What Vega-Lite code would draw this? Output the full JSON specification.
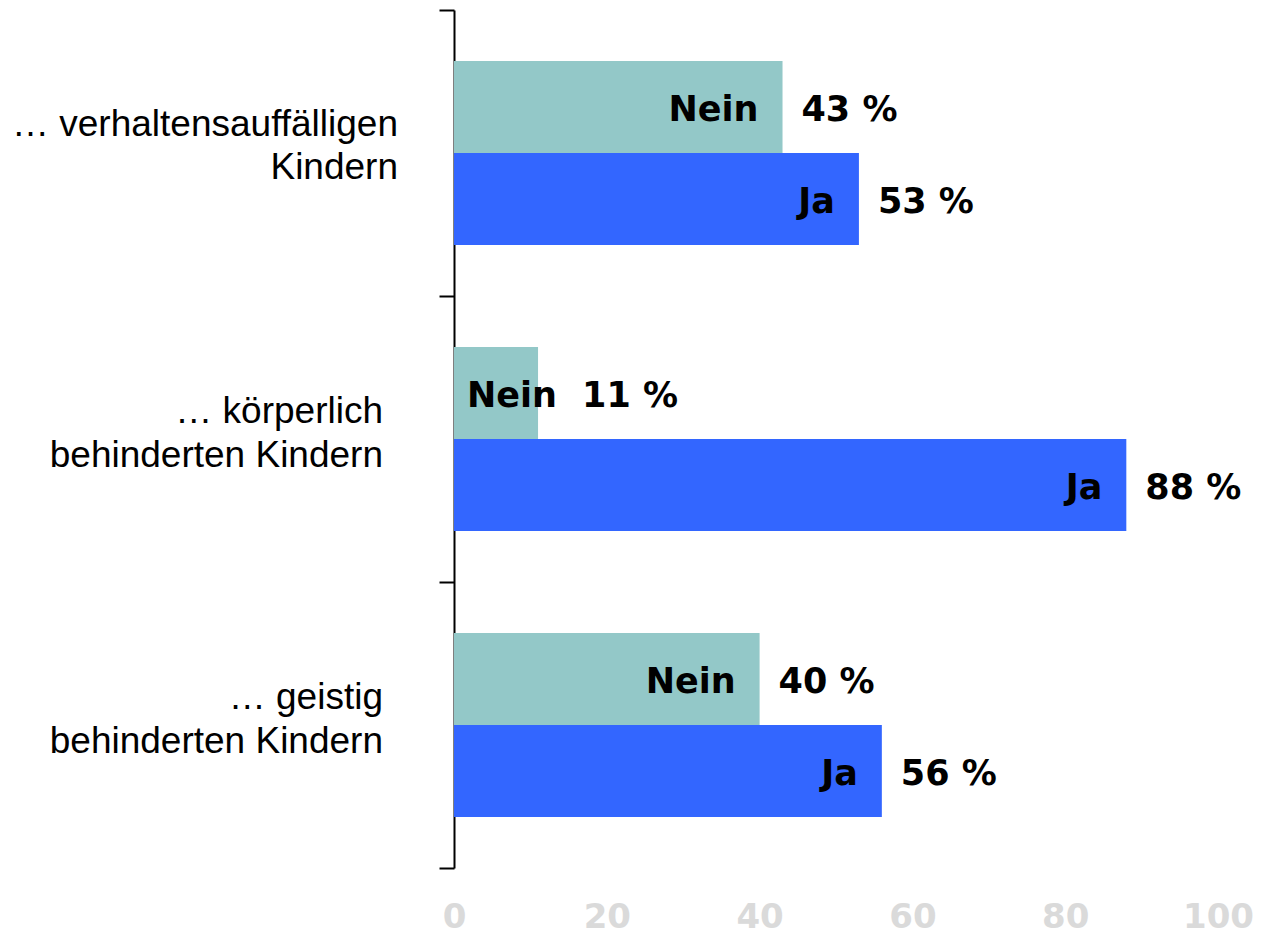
{
  "$schema": "https://vega.github.io/schema/vega-lite/v6.json",
  "width": 764,
  "height": 858,
  "autosize": {"type": "none"},
  "padding": {"left": 454, "top": 10, "right": 45, "bottom": 67},
  "background": "white",
  "config": {"view": {"stroke": null}},
  "data": {
    "values": [
      {"cat": "… verhaltensauffälligen|Kindern", "answer": "Nein", "value": 43, "label": "43 %"},
      {"cat": "… verhaltensauffälligen|Kindern", "answer": "Ja", "value": 53, "label": "53 %"},
      {"cat": "… körperlich\u00a0\u00a0|behinderten Kindern", "answer": "Nein", "value": 11, "label": "11 %"},
      {"cat": "… körperlich\u00a0\u00a0|behinderten Kindern", "answer": "Ja", "value": 88, "label": "88 %"},
      {"cat": "… geistig|behinderten Kindern", "answer": "Nein", "value": 40, "label": "40 %"},
      {"cat": "… geistig|behinderten Kindern", "answer": "Ja", "value": 56, "label": "56 %"}
    ]
  },
  "encoding": {
    "y": {
      "field": "cat",
      "type": "nominal",
      "sort": null,
      "scale": {"paddingInner": 0, "paddingOuter": 0},
      "axis": {
        "title": null,
        "tickBand": "extent",
        "domainColor": "black",
        "domainWidth": 2,
        "tickColor": "black",
        "tickWidth": 2,
        "tickSize": 15,
        "labels": false
      }
    }
  },
  "layer": [
    {
      "mark": {"type": "bar"},
      "encoding": {
        "yOffset": {"field": "answer", "type": "nominal", "sort": ["Nein", "Ja"], "scale": {"paddingInner": 0, "paddingOuter": 0.554}},
        "x": {
          "field": "value",
          "type": "quantitative",
          "scale": {"domain": [0, 100], "nice": false},
          "axis": {
            "title": null,
            "values": [0, 20, 40, 60, 80, 100],
            "domain": false,
            "ticks": false,
            "tickSize": 0,
            "grid": false,
            "labelFont": "DejaVu Sans",
            "labelFontWeight": "bold",
            "labelFontSize": 34,
            "labelColor": "#dadada",
            "labelPadding": 32,
            "labelFlush": false
          }
        },
        "color": {
          "field": "answer",
          "type": "nominal",
          "scale": {"domain": ["Nein", "Ja"], "range": ["#93c8c8", "#3366ff"]},
          "legend": null
        }
      }
    },
    {
      "transform": [{"filter": "datum.answer == 'Nein' && indexof(datum.cat, 'verhaltens') >= 0"}],
      "mark": {"type": "text", "align": "right", "baseline": "middle", "lineBreak": "|", "lineHeight": 43, "dx": -56, "dy": -28, "font": "Liberation Sans", "fontSize": 37, "color": "black"},
      "encoding": {
        "x": {"datum": 0, "type": "quantitative"},
        "text": {"field": "cat"}
      }
    },
    {
      "transform": [{"filter": "datum.answer == 'Nein' && indexof(datum.cat, 'verhaltens') < 0"}],
      "mark": {"type": "text", "align": "right", "baseline": "middle", "lineBreak": "|", "lineHeight": 44, "dx": -71, "dy": -27, "font": "Liberation Sans", "fontSize": 37, "color": "black"},
      "encoding": {
        "x": {"datum": 0, "type": "quantitative"},
        "text": {"field": "cat"}
      }
    },
    {
      "transform": [{"filter": "datum.value >= 20"}],
      "mark": {"type": "text", "align": "right", "baseline": "middle", "dx": -24, "dy": 3, "font": "DejaVu Sans", "fontWeight": "bold", "fontSize": 35, "color": "black"},
      "encoding": {
        "yOffset": {"field": "answer", "type": "nominal", "sort": ["Nein", "Ja"]},
        "x": {"field": "value", "type": "quantitative"},
        "text": {"field": "answer"}
      }
    },
    {
      "transform": [{"filter": "datum.value < 20"}],
      "mark": {"type": "text", "align": "left", "baseline": "middle", "dx": 13, "dy": 3, "font": "DejaVu Sans", "fontWeight": "bold", "fontSize": 35, "color": "black"},
      "encoding": {
        "yOffset": {"field": "answer", "type": "nominal", "sort": ["Nein", "Ja"]},
        "x": {"datum": 0, "type": "quantitative"},
        "text": {"field": "answer"}
      }
    },
    {
      "transform": [{"filter": "datum.value >= 20"}],
      "mark": {"type": "text", "align": "left", "baseline": "middle", "dx": 19, "dy": 3, "font": "DejaVu Sans", "fontWeight": "bold", "fontSize": 35, "color": "black"},
      "encoding": {
        "yOffset": {"field": "answer", "type": "nominal", "sort": ["Nein", "Ja"]},
        "x": {"field": "value", "type": "quantitative"},
        "text": {"field": "label"}
      }
    },
    {
      "transform": [{"filter": "datum.value < 20"}],
      "mark": {"type": "text", "align": "left", "baseline": "middle", "dx": 44, "dy": 3, "font": "DejaVu Sans", "fontWeight": "bold", "fontSize": 35, "color": "black"},
      "encoding": {
        "yOffset": {"field": "answer", "type": "nominal", "sort": ["Nein", "Ja"]},
        "x": {"field": "value", "type": "quantitative"},
        "text": {"field": "label"}
      }
    }
  ]
}
